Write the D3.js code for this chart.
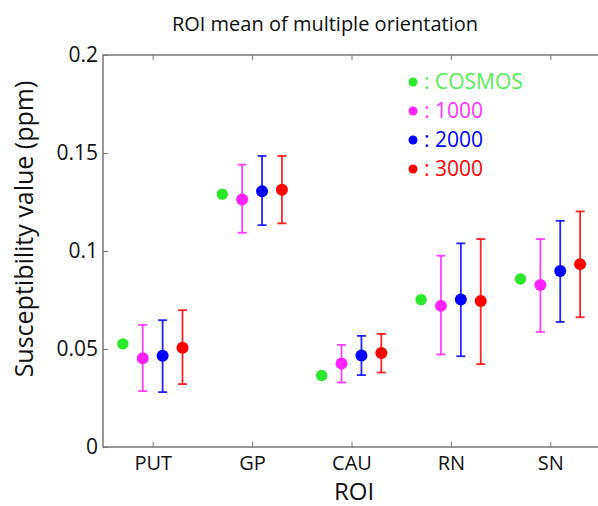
<!DOCTYPE html>
<html>
<head>
<meta charset="utf-8">
<script src="https://cdn.jsdelivr.net/npm/d3@7"></script>
<style>
    body { margin: 0; background: #fff; }
    text { font-family: "Open Sans", sans-serif; }
</style>
</head>
<body>
<script>
var categories = ["PUT", "GP", "CAU", "RN", "SN"];
var yTicks = [0, 0.05, 0.1, 0.15, 0.2];
var yTickLabels = ["0", "0.05", "0.1", "0.15", "0.2"];

var cosmos = [0.0526, 0.129, 0.0365, 0.0752, 0.0857];

var mean1000 = [0.0453, 0.1263, 0.0426, 0.0720, 0.0827];
var low1000 = [0.0285, 0.1093, 0.0329, 0.0472, 0.0587];
var high1000 = [0.0623, 0.1441, 0.0521, 0.0976, 0.1061];

var mean2000 = [0.0465, 0.1305, 0.0467, 0.0752, 0.0898];
var low2000 = [0.0280, 0.1132, 0.0367, 0.0463, 0.0638];
var high2000 = [0.0647, 0.1485, 0.0567, 0.1039, 0.1154];

var mean3000 = [0.0506, 0.1312, 0.0479, 0.0745, 0.0933];
var low3000 = [0.0321, 0.1141, 0.0380, 0.0423, 0.0662];
var high3000 = [0.0698, 0.1485, 0.0577, 0.1061, 0.1202];

var seriesNames = ["COSMOS", "1000", "2000", "3000"];
var seriesColors = ["#2ee82e", "#ff22ff", "#0000ff", "#ff0000"];
var legendColors = ["#55ee55", "#ff33ff", "#0000ff", "#ff0000"];

document.addEventListener('DOMContentLoaded', init);

function init() {
    let width = 598;
    let height = 506;
    let left = 103, right = 600, top = 55, bottom = 447;

    let svg = d3.select("body")
        .append("svg")
        .attr("width", width)
        .attr("height", height);

    let x = d3.scaleLinear().domain([0.5, 5.5]).range([left, right]);
    let y = d3.scaleLinear().domain([0, 0.2]).range([bottom, top]);
    let idx = categories.map((c, i) => i + 1);

    // frame
    svg.append("rect")
        .attr("x", left).attr("y", top)
        .attr("width", right - left).attr("height", bottom - top)
        .attr("fill", "none")
        .attr("stroke", "#777")
        .attr("stroke-width", 1.5);

    // bottom axis
    let xAxis = svg.append("g")
        .attr("transform", "translate(0," + bottom + ")")
        .call(d3.axisBottom(x).tickValues(idx).tickSize(-5).tickPadding(9)
            .tickFormat((d) => categories[d - 1]));
    xAxis.select(".domain").remove();
    xAxis.selectAll("line").attr("stroke", "#777");
    xAxis.selectAll("text").attr("font-size", "20px").attr("fill", "#111");

    // top ticks
    let xTop = svg.append("g")
        .attr("transform", "translate(0," + top + ")")
        .call(d3.axisTop(x).tickValues(idx).tickSize(-5).tickFormat(""));
    xTop.select(".domain").remove();
    xTop.selectAll("line").attr("stroke", "#777");

    // left axis
    let yAxis = svg.append("g")
        .attr("transform", "translate(" + left + ",0)")
        .call(d3.axisLeft(y).tickValues(yTicks).tickSize(-5).tickPadding(5)
            .tickFormat((d, i) => yTickLabels[i]));
    yAxis.select(".domain").remove();
    yAxis.selectAll("line").attr("stroke", "#777");
    yAxis.selectAll("text").attr("font-size", "21px").attr("fill", "#111");

    // titles
    svg.append("text")
        .attr("x", 325).attr("y", 31)
        .attr("text-anchor", "middle")
        .attr("font-size", "20px")
        .attr("fill", "#111")
        .text("ROI mean of multiple orientation");

    svg.append("text")
        .attr("x", 354).attr("y", 500)
        .attr("text-anchor", "middle")
        .attr("font-size", "24px")
        .attr("fill", "#111")
        .text("ROI");

    svg.append("text")
        .attr("transform", "translate(33," + 229 + ") rotate(-90)")
        .attr("text-anchor", "middle")
        .attr("font-size", "25px")
        .attr("fill", "#111")
        .text("Susceptibility value (ppm)");

    // error bars
    let errSeries = [
        { mean: mean1000, low: low1000, high: high1000, off: -0.1, color: seriesColors[1] },
        { mean: mean2000, low: low2000, high: high2000, off: 0.1, color: seriesColors[2] },
        { mean: mean3000, low: low3000, high: high3000, off: 0.3, color: seriesColors[3] },
    ];
    let capW = 4.5;

    errSeries.forEach((s) => {
        let g = svg.append("g");
        let rows = idx.map((d, i) => ({ k: d, m: s.mean[i], lo: s.low[i], hi: s.high[i] }));

        g.selectAll("line.v").data(rows).enter().append("line")
            .attr("x1", (d) => x(d.k + s.off)).attr("x2", (d) => x(d.k + s.off))
            .attr("y1", (d) => y(d.lo)).attr("y2", (d) => y(d.hi))
            .attr("stroke", s.color).attr("stroke-width", 1.8).attr("opacity", 0.85);
        g.selectAll("line.top").data(rows).enter().append("line")
            .attr("x1", (d) => x(d.k + s.off) - capW).attr("x2", (d) => x(d.k + s.off) + capW)
            .attr("y1", (d) => y(d.hi)).attr("y2", (d) => y(d.hi))
            .attr("stroke", s.color).attr("stroke-width", 1.8).attr("opacity", 0.85);
        g.selectAll("line.bot").data(rows).enter().append("line")
            .attr("x1", (d) => x(d.k + s.off) - capW).attr("x2", (d) => x(d.k + s.off) + capW)
            .attr("y1", (d) => y(d.lo)).attr("y2", (d) => y(d.lo))
            .attr("stroke", s.color).attr("stroke-width", 1.8).attr("opacity", 0.85);
        g.selectAll("circle").data(rows).enter().append("circle")
            .attr("cx", (d) => x(d.k + s.off))
            .attr("cy", (d) => y(d.m))
            .attr("r", 6)
            .attr("fill", s.color);
    });

    // cosmos points
    svg.append("g").selectAll("circle")
        .data(cosmos)
        .enter()
        .append("circle")
        .attr("cx", (d, i) => x(idx[i] - 0.3))
        .attr("cy", (d) => y(d))
        .attr("r", 5.7)
        .attr("fill", seriesColors[0]);

    // legend
    let lg = svg.append("g");
    seriesNames.forEach((name, i) => {
        let cy = 82 + i * 29;
        lg.append("circle")
            .attr("cx", 413).attr("cy", cy).attr("r", 4.5)
            .attr("fill", seriesColors[i]);
        lg.append("text")
            .attr("x", 424).attr("y", cy + 7)
            .attr("font-size", "21px")
            .attr("fill", legendColors[i])
            .text(": " + name);
    });
}
</script>
</body>
</html>
